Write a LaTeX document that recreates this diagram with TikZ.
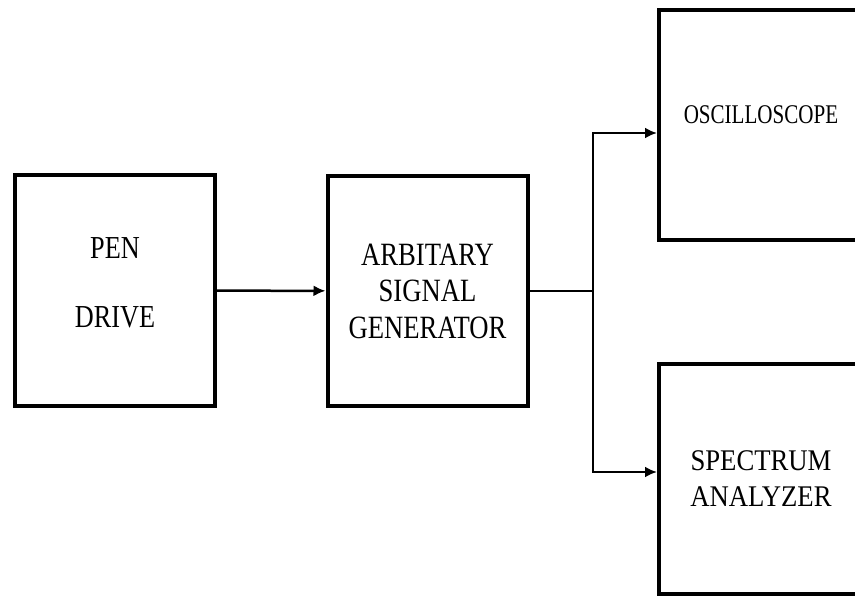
\documentclass[tikz,border=0pt]{standalone}
\usepackage{fontspec}
\setmainfont{Liberation Serif}
\usetikzlibrary{arrows.meta}

\begin{document}
\begin{tikzpicture}[x=1pt,y=-1pt,
    block/.style={draw,line width=4pt,minimum width=200pt,minimum height=230pt,align=center,inner sep=0pt},
    link/.style={line width=2.5pt,-{Latex[length=12pt,width=11pt]}}]
                                     \clip (0,0) rectangle (855,599);
                                     \node[block,text depth=16pt,font=\fontsize{32}{38}\selectfont](pen)at(115,290.5){\scalebox{0.82}[1]{PEN}\\[31pt]\scalebox{0.82}[1]{DRIVE}};
                                     \node[block,font=\fontsize{32.5}{36.5}\selectfont](asg)at(427.5,291){\scalebox{0.82}[1]{ARBITARY}\\\scalebox{0.82}[1]{SIGNAL}\\\scalebox{0.82}[1]{GENERATOR}};
                                     \node[block,minimum width=204pt,text depth=20pt,font=\fontsize{27}{32}\selectfont](osc)at(761,125){\scalebox{0.78}[1]{OSCILLOSCOPE}};
                                     \node[block,minimum width=204pt,font=\fontsize{30}{36}\selectfont](spec)at(761,479){\scalebox{0.89}[1]{SPECTRUM}\\\scalebox{0.89}[1]{ANALYZER}};
                                     \coordinate(split)at(593,291);
                                     \draw[link] (pen)--(asg);
                                     \draw[line width=2.5pt] (asg.east)--(split);
                                     \draw[link] (split)|-([yshift=-8pt]osc.west);
                                     \draw[link] (split)|-([yshift=7pt]spec.west);
                                 \end{tikzpicture}
\end{document}
